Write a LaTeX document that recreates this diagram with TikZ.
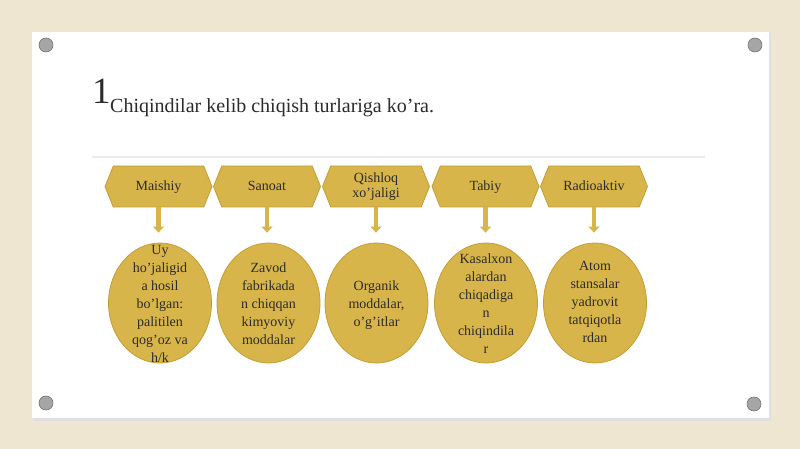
\documentclass[tikz,border=0pt]{standalone}
\usepackage{fontspec}
\setmainfont{Liberation Serif}
\usetikzlibrary{shapes.geometric,shapes.symbols,arrows.meta}
\definecolor{bgbeige}{HTML}{EFE6D1}
\definecolor{gold}{HTML}{D8B54B}
\definecolor{goldline}{HTML}{C29F36}
\definecolor{txt}{HTML}{2B2B2B}
\tikzset{
  hexbox/.style={signal, signal to=east and west, signal pointer angle=136,
    fill=gold, draw=goldline, line width=0.8pt, minimum width=107pt, minimum height=41pt,
    inner sep=0pt, font=\fontsize{14}{16}\selectfont, text=txt, align=center},
  oneline/.style={text height=10pt, text depth=3pt},
  ovalbox/.style={ellipse, fill=gold, draw=goldline, line width=0.8pt,
    minimum width=103pt, minimum height=120pt, inner sep=0pt},
  ovaltext/.style={font=\fontsize{14}{18}\selectfont, text=txt, align=center, inner sep=0pt},
  downarrow/.style={draw=gold, line width=4.5pt,
    -{Triangle[width=11pt,length=6pt]}, shorten >=10pt},
  screw/.style={circle, fill=gray!70, draw=gray!90!black, line width=0.6pt, minimum size=14pt, inner sep=0pt}
}
\begin{document}
\begin{tikzpicture}[x=1pt,y=-1pt]
\useasboundingbox (0,0) rectangle (800,449);
\fill[bgbeige] (0,0) rectangle (800,449);
% card shadow and card
\fill[black!12] (33,33) rectangle (771,421);
\fill[white] (32,32) rectangle (769,418);
% screws
\node[screw] (s1) at (46,45) {};
\node[screw] (s2) at (755,45) {};
\node[screw] (s3) at (46,403) {};
\node[screw] (s4) at (754,404) {};
% title
\node[anchor=base west, inner sep=0pt, font=\fontsize{37}{40}\selectfont, text=txt] (num) at (92,104) {1};
\node[anchor=base west, inner sep=0pt, font=\fontsize{20}{24}\selectfont, text=txt] (title) at (110,113) {Chiqindilar kelib chiqish turlariga ko’ra.};
% separator
\draw[black!8, line width=1.5pt] (92,157) -- (705,157);
% hexagons
\node[hexbox, oneline] (h1) at (158.5,186.5) {Maishiy};
\node[hexbox, oneline] (h2) at (267,186.5) {Sanoat};
\node[hexbox] (h3) at (376,186.5) {Qishloq\\[-1pt]xo’jaligi};
\node[hexbox, oneline] (h4) at (485.5,186.5) {Tabiy};
\node[hexbox, oneline] (h5) at (594,186.5) {Radioaktiv};
% ellipses
\node[ovalbox] (e1) at (160,303) {};
\node[ovalbox] (e2) at (268.5,303) {};
\node[ovalbox] (e3) at (376.5,303) {};
\node[ovalbox] (e4) at (486,303) {};
\node[ovalbox] (e5) at (595,303) {};
\node[ovaltext] (t1) at (160,304) {Uy\\ho’jaligid\\a hosil\\bo’lgan:\\palitilen\\qog’oz va\\h/k};
\node[ovaltext] (t2) at (268.5,304) {Zavod\\fabrikada\\n chiqqan\\kimyoviy\\moddalar};
\node[ovaltext] (t3) at (376.5,305) {Organik\\moddalar,\\o’g’itlar};
\node[ovaltext] (t4) at (486,304) {Kasalxon\\alardan\\chiqadiga\\n\\chiqindila\\r};
\node[ovaltext] (t5) at (595,302) {Atom\\stansalar\\yadrovit\\tatqiqotla\\rdan};
% arrows
\foreach \i in {1,...,5} {
  \draw[downarrow] (h\i.south) -- (h\i.south |- e\i.north);
}
\end{tikzpicture}
\end{document}
